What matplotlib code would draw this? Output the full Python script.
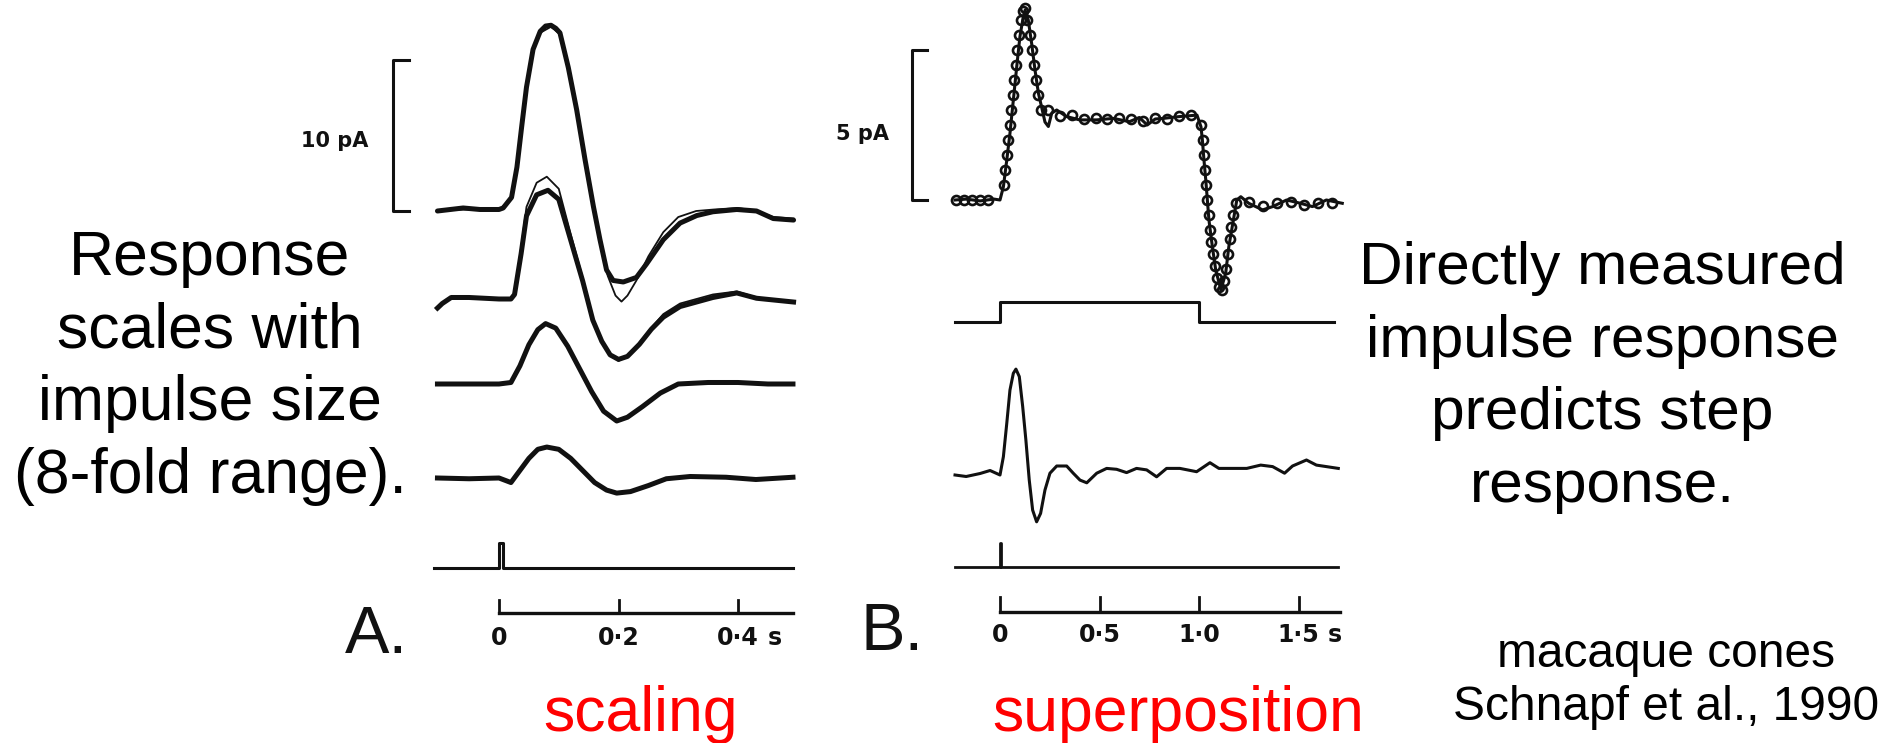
import matplotlib
matplotlib.use('Agg')
import matplotlib.pyplot as plt
import numpy as np

W, H = 1894, 743
INK = '#111111'
SANS = 'Liberation Sans'
SCAN = 'DejaVu Sans'

# ── Panel A: impulse responses at four flash strengths (time s, current pA) ──
A1_T = [-0.103, -0.06, -0.032, 0.0, 0.007, 0.021, 0.030, 0.038, 0.046, 0.057, 0.069, 0.078,
        0.087, 0.095, 0.102, 0.116, 0.130, 0.144, 0.158, 0.169, 0.180, 0.191, 0.208, 0.230,
        0.247, 0.275, 0.303, 0.331, 0.358, 0.398, 0.431, 0.459, 0.493]
A1_V = [0, 0.2, 0.1, 0.1, 0.2, 0.9, 2.9, 5.6, 8.2, 10.7, 11.9, 12.25,
        12.3, 12.1, 11.8, 9.5, 6.7, 3.4, 0.3, -1.9, -3.9, -4.6, -4.7, -4.4,
        -3.5, -1.9, -0.8, -0.3, -0.05, 0.1, 0.0, -0.5, -0.6]
A1_T_THIN = [-0.103, -0.06, 0.0, 0.021, 0.030, 0.038, 0.046, 0.057, 0.069, 0.087, 0.102, 0.116,
             0.130, 0.144, 0.158, 0.170, 0.182, 0.195, 0.205, 0.215, 0.230, 0.250, 0.275, 0.300,
             0.330, 0.360, 0.400, 0.431, 0.459, 0.493]
A1_V_THIN = [0, 0.1, 0.1, 0.8, 2.8, 5.5, 8.1, 10.6, 11.8, 12.2, 11.7, 9.4,
             6.6, 3.3, 0.2, -2.2, -4.3, -5.6, -6.0, -5.6, -4.6, -3.0, -1.4, -0.4,
             0.0, 0.1, 0.2, 0.0, -0.4, -0.5]

A2_T = [-0.103, -0.095, -0.08, -0.05, 0.0, 0.020, 0.026, 0.037, 0.046, 0.063, 0.082, 0.100,
        0.120, 0.140, 0.157, 0.172, 0.186, 0.200, 0.215, 0.235, 0.255, 0.275, 0.303, 0.358,
        0.398, 0.431, 0.493]
A2_V = [-0.6, -0.3, 0.1, 0.1, 0.0, 0.0, 0.3, 3.0, 5.5, 6.9, 7.2, 6.6,
        3.9, 1.2, -1.4, -2.8, -3.7, -4.0, -3.8, -3.0, -2.0, -1.2, -0.5, 0.1,
        0.4, 0.05, -0.2]
A2_T_THIN = [-0.103, -0.095, -0.08, 0.0, 0.020, 0.026, 0.037, 0.046, 0.063, 0.080, 0.100, 0.120,
             0.140, 0.157, 0.172, 0.186, 0.200, 0.215, 0.235, 0.255, 0.275, 0.303, 0.358, 0.398,
             0.431, 0.493]
A2_V_THIN = [-0.6, -0.3, 0.1, 0.0, 0.0, 0.4, 3.4, 6.1, 7.7, 8.1, 7.3, 4.3,
             1.4, -1.3, -2.8, -3.7, -4.1, -3.8, -2.9, -1.9, -1.0, -0.3, 0.3, 0.5,
             0.1, -0.2]

A3_T = [-0.103, -0.05, 0.0, 0.02, 0.035, 0.05, 0.065, 0.078, 0.095, 0.115, 0.135, 0.155,
        0.175, 0.197, 0.215, 0.24, 0.27, 0.30, 0.35, 0.40, 0.45, 0.492]
A3_V = [0, 0, 0, 0.1, 1.2, 2.6, 3.6, 4.0, 3.7, 2.5, 1.0, -0.5,
        -1.8, -2.45, -2.2, -1.5, -0.6, 0.0, 0.1, 0.1, 0.0, 0.0]

A4_T = [-0.103, -0.05, 0.0, 0.02, 0.035, 0.05, 0.065, 0.08, 0.10, 0.12, 0.14, 0.16,
        0.18, 0.197, 0.22, 0.25, 0.28, 0.32, 0.38, 0.43, 0.492]
A4_V = [0, -0.05, 0.0, -0.3, 0.5, 1.3, 1.9, 2.05, 1.9, 1.3, 0.5, -0.3,
        -0.8, -1.0, -0.9, -0.5, -0.05, 0.1, 0.05, -0.1, 0.05]

FLASH_A_T = [-0.108, 0.0, 0.0, 0.006, 0.006, 0.492]
FLASH_A_V = [0, 0, 1, 1, 0, 0]

TICKS_A = [0.0, 0.2, 0.4]
TICKLABELS_A = ['0', '0·2', '0·4']

# ── Panel B: step response, prediction from impulse response, impulse response ──
BM_T = [-0.226, -0.17, -0.10, -0.03, 0.0, 0.017, 0.034, 0.050, 0.067, 0.084, 0.100, 0.117,
        0.126, 0.142, 0.159, 0.176, 0.193, 0.209, 0.226, 0.243, 0.260, 0.285, 0.335, 0.40,
        0.486, 0.57, 0.65, 0.70, 0.74, 0.78, 0.82, 0.90, 0.99, 1.01, 1.017, 1.025,
        1.034, 1.042, 1.05, 1.067, 1.084, 1.11, 1.134, 1.15, 1.167, 1.19, 1.21, 1.25,
        1.32, 1.37, 1.44, 1.51, 1.57, 1.64, 1.72]
BM_V = [0, 0.03, -0.03, 0.03, 0, 0.44, 1.33, 2.22, 3.33, 4.44, 5.44, 6.11,
        6.33, 6.0, 5.22, 4.33, 3.56, 3.1, 2.6, 2.45, 2.9, 3.0, 2.78, 2.67,
        2.67, 2.72, 2.61, 2.75, 2.5, 2.7, 2.72, 2.78, 2.83, 2.44, 2.0, 1.33,
        0.67, 0.0, -0.67, -1.55, -2.33, -3.0, -2.44, -1.55, -0.89, 0.0, 0.11, -0.11,
        -0.33, -0.22, 0.0, -0.11, -0.22, 0.0, -0.11]

BP_T = [-0.22, -0.18, -0.14, -0.10, -0.06,
        0.018, 0.025, 0.033, 0.040, 0.048, 0.055, 0.063, 0.070, 0.078, 0.086, 0.095, 0.104, 0.114, 0.126,
        0.138, 0.150, 0.161, 0.171, 0.181, 0.192, 0.205,
        0.24, 0.30, 0.36, 0.42, 0.48, 0.54, 0.60, 0.66, 0.72, 0.78, 0.84, 0.90, 0.96,
        1.012, 1.018, 1.024, 1.030, 1.036, 1.042, 1.048, 1.055, 1.062, 1.070, 1.078, 1.088,
        1.100, 1.115, 1.128, 1.138, 1.146, 1.154, 1.162, 1.172, 1.185,
        1.25, 1.32, 1.39, 1.46, 1.53, 1.60, 1.67]
BP_V = [0, 0, 0, 0, 0,
        0.5, 1.0, 1.5, 2.0, 2.5, 3.0, 3.5, 4.0, 4.5, 5.0, 5.5, 6.0, 6.3, 6.4,
        6.0, 5.5, 5.0, 4.5, 4.0, 3.5, 3.0,
        3.0, 2.8, 2.85, 2.7, 2.75, 2.7, 2.75, 2.7, 2.65, 2.75, 2.7, 2.8, 2.85,
        2.5, 2.0, 1.5, 1.0, 0.5, 0.0, -0.5, -1.0, -1.4, -1.8, -2.2, -2.6,
        -2.9, -3.0, -2.7, -2.3, -1.8, -1.3, -0.9, -0.5, -0.1,
        -0.05, -0.2, -0.1, -0.05, -0.15, -0.1, -0.1]

STEP_T = [-0.226, 0.0, 0.0, 1.0, 1.0, 1.68]
STEP_V = [0, 0, 1, 1, 0, 0]

BI_T = [-0.226, -0.17, -0.10, -0.05, 0.0, 0.017, 0.034, 0.050, 0.067, 0.080, 0.097, 0.114,
        0.130, 0.147, 0.164, 0.184, 0.204, 0.226, 0.251, 0.285, 0.335, 0.368, 0.402, 0.436,
        0.486, 0.536, 0.586, 0.636, 0.686, 0.737, 0.787, 0.837, 0.904, 0.988, 1.055, 1.10,
        1.17, 1.24, 1.31, 1.37, 1.43, 1.47, 1.54, 1.59, 1.64, 1.70]
BI_V = [0, -0.05, 0.05, 0.15, 0, 0.61, 1.72, 2.83, 3.39, 3.53, 3.28, 2.28,
        1.17, -0.17, -1.17, -1.56, -1.28, -0.5, 0.06, 0.3, 0.3, 0.06, -0.17, -0.26,
        0.06, 0.22, 0.19, 0.08, 0.22, 0.17, -0.06, 0.22, 0.22, 0.11, 0.41, 0.22,
        0.22, 0.22, 0.33, 0.28, 0.06, 0.3, 0.5, 0.33, 0.28, 0.22]

FLASH_B_T = [-0.226, 0.0, 0.0, 0.006, 0.006, 1.70]
FLASH_B_V = [0, 0, 1, 1, 0, 0]

TICKS_B = [0.0, 0.5, 1.0, 1.5]
TICKLABELS_B = ['0', '0·5', '1·0', '1·5']

LEFT_LINES = ['Response', 'scales with', 'impulse size', '(8-fold range).']
RIGHT_LINES = ['Directly measured', 'impulse response', 'predicts step', 'response.']
CREDIT_LINES = ['macaque cones', 'Schnapf et al., 1990']


fig = plt.figure(figsize=(W / 100, H / 100), dpi=100)
fig.patch.set_facecolor('white')

# pixel-space layer for the slide text
txt = fig.add_axes([0, 0, 1, 1])
txt.set_xlim(0, W)
txt.set_ylim(H, 0)
txt.axis('off')


def panel(x0_px, px_per_s, y0_px, px_per_unit):
    ax = fig.add_axes([0, 0, 1, 1])
    ax.set_xlim(-x0_px / px_per_s, (W - x0_px) / px_per_s)
    ax.set_ylim((y0_px - H) / px_per_unit, y0_px / px_per_unit)
    ax.axis('off')
    return ax


def shifted(v, off, scale=1.0):
    return np.asarray(v, dtype=float) * scale + off


# ── Panel A ──────────────────────────────────────────────────────────────────
axA = panel(499, 597.5, 211, 15.1)
offA = lambda py: (211 - py) / 15.1

axA.plot(A1_T, A1_V, color=INK, lw=3.6, solid_joinstyle='round', solid_capstyle='round')
axA.plot(A1_T_THIN, A1_V_THIN, color=INK, lw=1.3)
axA.plot(A2_T, shifted(A2_V, offA(299)), color=INK, lw=3.6, solid_joinstyle='round')
axA.plot(A2_T_THIN, shifted(A2_V_THIN, offA(299)), color=INK, lw=1.3)
axA.plot(A3_T, shifted(A3_V, offA(384)), color=INK, lw=3.6, solid_joinstyle='round')
axA.plot(A4_T, shifted(A4_V, offA(478)), color=INK, lw=3.6, solid_joinstyle='round')
axA.plot(FLASH_A_T, shifted(FLASH_A_V, offA(568), 1.66), color=INK, lw=2.2)

# 10 pA scale bar
axA.plot([-0.150, -0.177, -0.177, -0.150], [0, 0, 10, 10], color=INK, lw=2.2)

# time axis
yax, ytk = offA(613), offA(600)
axA.plot([0, 0.492], [yax, yax], color=INK, lw=2.4)
for t, lab in zip(TICKS_A, TICKLABELS_A):
    axA.plot([t, t], [yax, ytk], color=INK, lw=2.0)
    axA.text(t, offA(638), lab, ha='center', va='center', fontsize=17,
             fontweight='bold', family=SCAN, color=INK)
axA.text(TICKS_A[-1] + 0.062, offA(638), 's', ha='center', va='center', fontsize=17,
         fontweight='bold', family=SCAN, color=INK)

# ── Panel B ──────────────────────────────────────────────────────────────────
axB = panel(1000, 199, 200, 30)
offB = lambda py: (200 - py) / 30

axB.plot(BM_T, BM_V, color=INK, lw=2.2, solid_joinstyle='round')
axB.plot(BP_T, BP_V, ls='none', marker='o', ms=6.5, mfc='none', mec=INK, mew=1.9)
axB.plot(STEP_T, shifted(STEP_V, offB(322), 0.667), color=INK, lw=2.2)
axB.plot(BI_T, shifted(BI_V, offB(475)), color=INK, lw=2.2, solid_joinstyle='round')
axB.plot(FLASH_B_T, shifted(FLASH_B_V, offB(567), 0.8), color=INK, lw=2.0)

# 5 pA scale bar
axB.plot([-0.367, -0.442, -0.442, -0.367], [0, 0, 5, 5], color=INK, lw=2.2)

yaxb, ytkb = offB(612), offB(597)
axB.plot([0, 1.71], [yaxb, yaxb], color=INK, lw=2.4)
for t, lab in zip(TICKS_B, TICKLABELS_B):
    axB.plot([t, t], [yaxb, ytkb], color=INK, lw=2.0)
    axB.text(t, offB(635), lab, ha='center', va='center', fontsize=17,
             fontweight='bold', family=SCAN, color=INK)
axB.text(TICKS_B[-1] + 0.18, offB(635), 's', ha='center', va='center', fontsize=17,
         fontweight='bold', family=SCAN, color=INK)

# ── scale bar labels and panel letters ──────────────────────────────────────
txt.text(335, 141, '10 pA', ha='center', va='center', fontsize=15,
         fontweight='bold', family=SCAN, color=INK)
txt.text(862, 134, '5 pA', ha='center', va='center', fontsize=15,
         fontweight='bold', family=SCAN, color=INK)
txt.text(345, 653, 'A.', ha='left', va='baseline', fontsize=48, family=SANS, color=INK)
txt.text(860, 650, 'B.', ha='left', va='baseline', fontsize=48, family=SANS, color=INK)

# ── slide text ───────────────────────────────────────────────────────────────
for i, line in enumerate(LEFT_LINES):
    txt.text(210, 275 + 72.5 * i, line, ha='center', va='baseline',
             fontsize=45, family=SANS, color='black')
for i, line in enumerate(RIGHT_LINES):
    txt.text(1602, 284 + 72.7 * i, line, ha='center', va='baseline',
             fontsize=43.5, family=SANS, color='black')
for i, line in enumerate(CREDIT_LINES):
    txt.text(1666, 667 + 53 * i, line, ha='center', va='baseline',
             fontsize=34.5, family=SANS, color='black')

txt.text(641, 731, 'scaling', ha='center', va='baseline', fontsize=45,
         family=SANS, color='#FF0000')
txt.text(1178, 731, 'superposition', ha='center', va='baseline', fontsize=45,
         family=SANS, color='#FF0000')

fig.savefig('out.png', dpi=100, facecolor='white')
